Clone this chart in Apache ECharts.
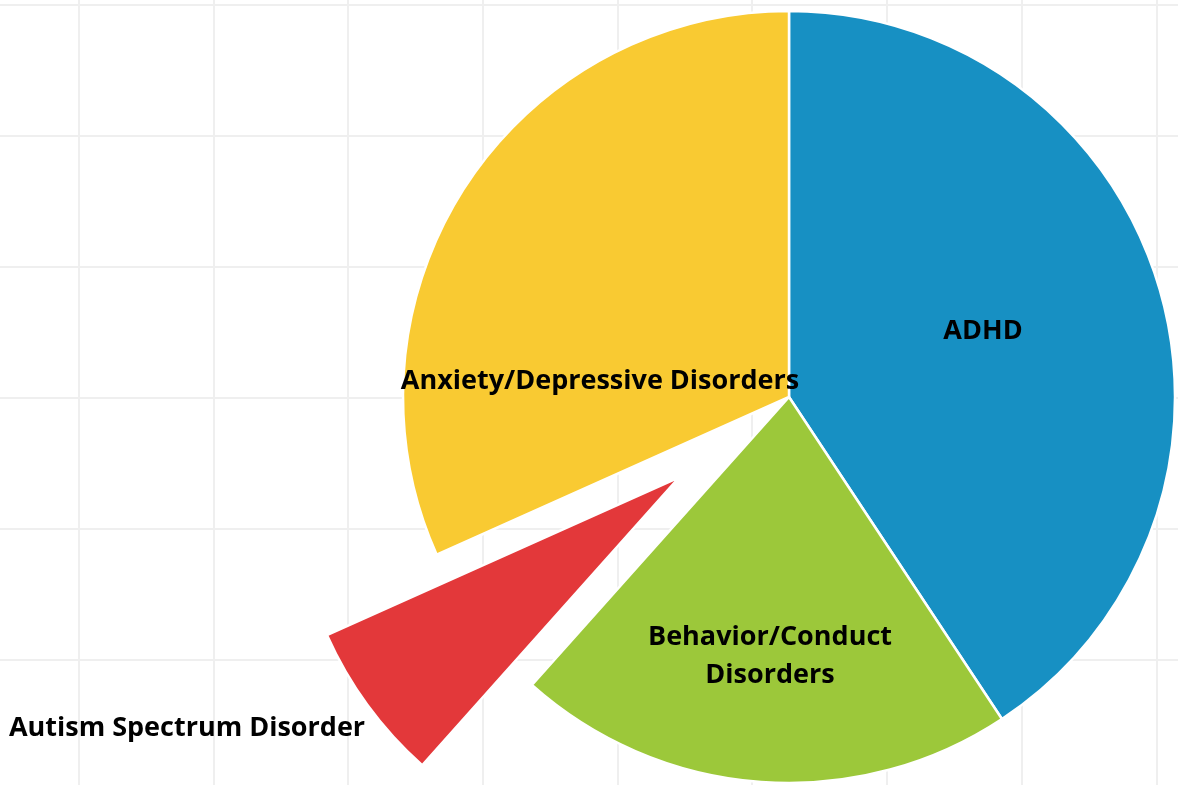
<!DOCTYPE html>
<html>
<head>
<meta charset="utf-8">
<script src="https://cdn.jsdelivr.net/npm/echarts@6/dist/echarts.min.js"></script>
<style>
html,body{margin:0;padding:0;background:#fff;}
#chart{width:1178px;height:785px;}
</style>
</head>
<body>
<div id="chart"></div>
<script>
const categories = ['ADHD', 'Behavior/Conduct\nDisorders', 'Autism Spectrum Disorder', 'Anxiety/Depressive Disorders'];
const values = [40.7, 20.9, 6.7, 31.7];
const colors = ['#1790c3', '#9cc83a', '#e3383a', '#f9ca32'];
const explodedIndex = 2;

const labelSpots = [[983, 331], [770, 656], [187, 728], [600, 381]];

const axisCommon = {
  type: 'value', min: 0, interval: 1,
  axisLine: {show: false}, axisTick: {show: false}, axisLabel: {show: false},
  splitLine: {show: true, lineStyle: {color: '#efefef', width: 2}}
};

const pieCommon = {
  type: 'pie',
  center: [789, 397],
  radius: 386,
  startAngle: 90,
  clockwise: true,
  avoidLabelOverlap: false,
  emphasis: {disabled: true},
  labelLine: {show: false}
};

const chart = echarts.init(document.getElementById('chart'), null, {renderer: 'canvas'});
chart.setOption({
  animation: false,
  backgroundColor: '#ffffff',
  grid: [
    {left: 78.7, top: 0, width: 1077.6, bottom: 0},
    {left: 0, right: 0, top: 4.7, height: 655}
  ],
  xAxis: [
    Object.assign({}, axisCommon, {gridIndex: 0, max: 8}),
    Object.assign({}, axisCommon, {gridIndex: 1, max: 1, splitLine: {show: false}})
  ],
  yAxis: [
    Object.assign({}, axisCommon, {gridIndex: 0, max: 1, splitLine: {show: false}}),
    Object.assign({}, axisCommon, {gridIndex: 1, max: 5})
  ],
  series: [
    {type: 'scatter', data: [], silent: true, xAxisIndex: 0, yAxisIndex: 0},
    {type: 'scatter', data: [], silent: true, xAxisIndex: 1, yAxisIndex: 1},
    Object.assign({}, pieCommon, {
      selectedMode: 'single',
      selectedOffset: 136,
      itemStyle: {borderColor: '#ffffff', borderWidth: 2.5},
      label: {show: false},
      data: categories.map((c, i) => ({
        name: c, value: values[i], selected: i === explodedIndex,
        itemStyle: {color: colors[i]}
      }))
    }),
    Object.assign({}, pieCommon, {
      silent: true,
      selectedMode: false,
      itemStyle: {color: 'rgba(0,0,0,0)', borderWidth: 0},
      label: {
        show: true, position: 'inside', color: '#000000', fontWeight: 'bold',
        fontSize: 27, fontFamily: '"Open Sans", sans-serif', lineHeight: 38,
        formatter: p => p.name
      },
      labelLayout: function (params) {
        const s = labelSpots[params.dataIndex];
        return {x: s[0], y: s[1], align: 'center', verticalAlign: 'middle'};
      },
      data: categories.map((c, i) => ({name: c, value: values[i]}))
    })
  ]
});
</script>
</body>
</html>
